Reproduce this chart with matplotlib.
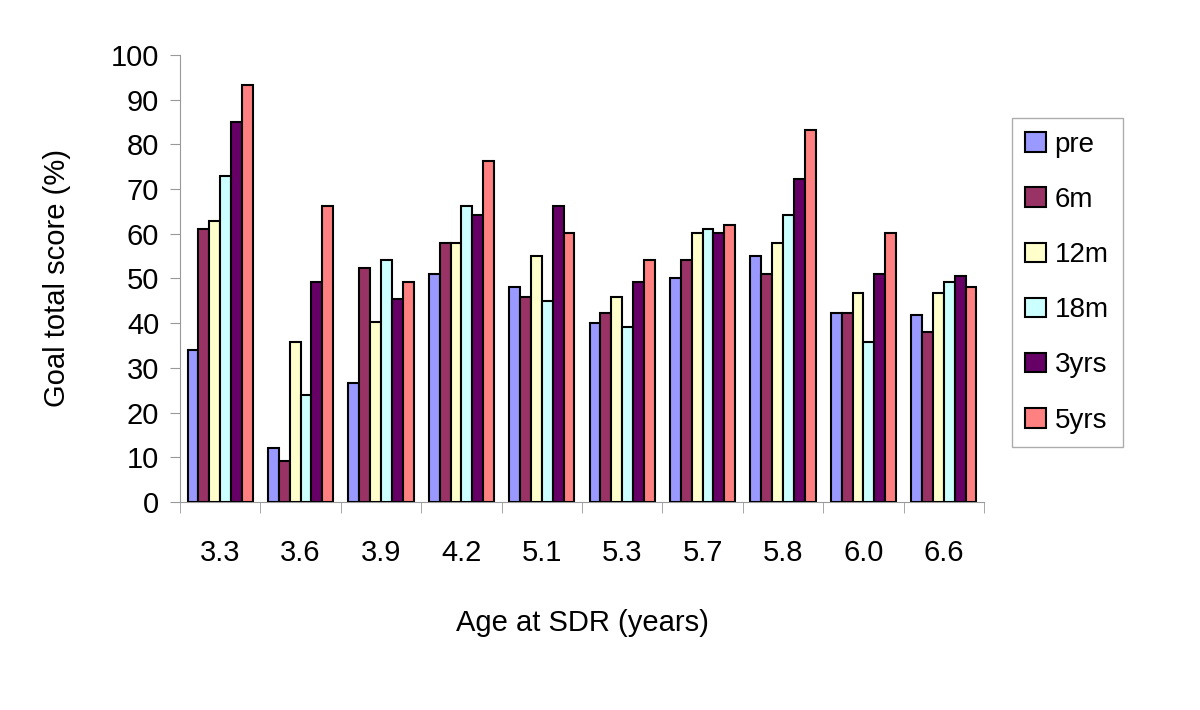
import matplotlib
matplotlib.use("Agg")
import matplotlib.pyplot as plt
import numpy as np

ages = ["3.3", "3.6", "3.9", "4.2", "5.1", "5.3", "5.7", "5.8", "6.0", "6.6"]
pre = [34, 12, 26.7, 50.9, 48.2, 40, 50, 55.1, 42.2, 41.8]
m6 = [61, 9.2, 52.3, 57.9, 45.9, 42.3, 54.1, 50.9, 42.2, 38.1]
m12 = [62.9, 35.8, 40.3, 57.9, 55.1, 45.9, 60.1, 57.9, 46.8, 46.8]
m18 = [73, 23.9, 54.1, 66.1, 45, 39.1, 61, 64.3, 35.8, 49.1]
yrs3 = [85, 49.2, 45.5, 64.3, 66.1, 49.2, 60.1, 72.2, 51, 50.5]
yrs5 = [93.2, 66.1, 49.1, 76.3, 60.1, 54.1, 62, 83.1, 60.1, 48.2]
series = ["pre", "6m", "12m", "18m", "3yrs", "5yrs"]
colors = ["#9999FF", "#993366", "#FFFFCC", "#CCFFFF", "#660066", "#FF8080"]

plt.rcParams["font.family"] = ["Liberation Sans", "DejaVu Sans"]
AXIS = "#999999"

fig = plt.figure(figsize=(12, 7.1), dpi=100)
ax = fig.add_axes([0.15, 0.293, 0.67, 0.6296])

x = np.arange(len(ages))
w = 0.135
for i, (name, vals) in enumerate(zip(series, [pre, m6, m12, m18, yrs3, yrs5])):
    ax.bar(x + (i - 2.5) * w, vals, w, color=colors[i], edgecolor="black",
           linewidth=1.5, label=name, zorder=3)

ax.set_xlim(-0.5, len(ages) - 0.5)
ax.set_ylim(0, 100)
ax.set_yticks(range(0, 101, 10))
ax.set_xticks(x)
ax.set_xticklabels(ages)
ax.set_xticks(np.arange(-0.5, len(ages)), minor=True)
ax.tick_params(axis="x", which="major", length=0, labelsize=21, pad=27)
ax.tick_params(axis="x", which="minor", length=8, color=AXIS, direction="out")
ax.tick_params(axis="y", labelsize=21, length=7, color=AXIS, direction="out", pad=8)
for sp in ("top", "right"):
    ax.spines[sp].set_visible(False)
for sp in ("left", "bottom"):
    ax.spines[sp].set_color(AXIS)

ax.set_xlabel("Age at SDR (years)", fontsize=21, labelpad=30)
ax.set_ylabel("Goal total score (%)", fontsize=21, labelpad=29)

leg = fig.legend(loc="upper left", bbox_to_anchor=(0.843, 0.834), fontsize=20,
                 frameon=True, fancybox=False, edgecolor=AXIS,
                 handlelength=0.75, handleheight=0.7, labelspacing=1.05,
                 handletextpad=0.3, borderpad=0.5, borderaxespad=0)
leg.get_frame().set_linewidth(1)

fig.savefig("out.png", facecolor="white")
